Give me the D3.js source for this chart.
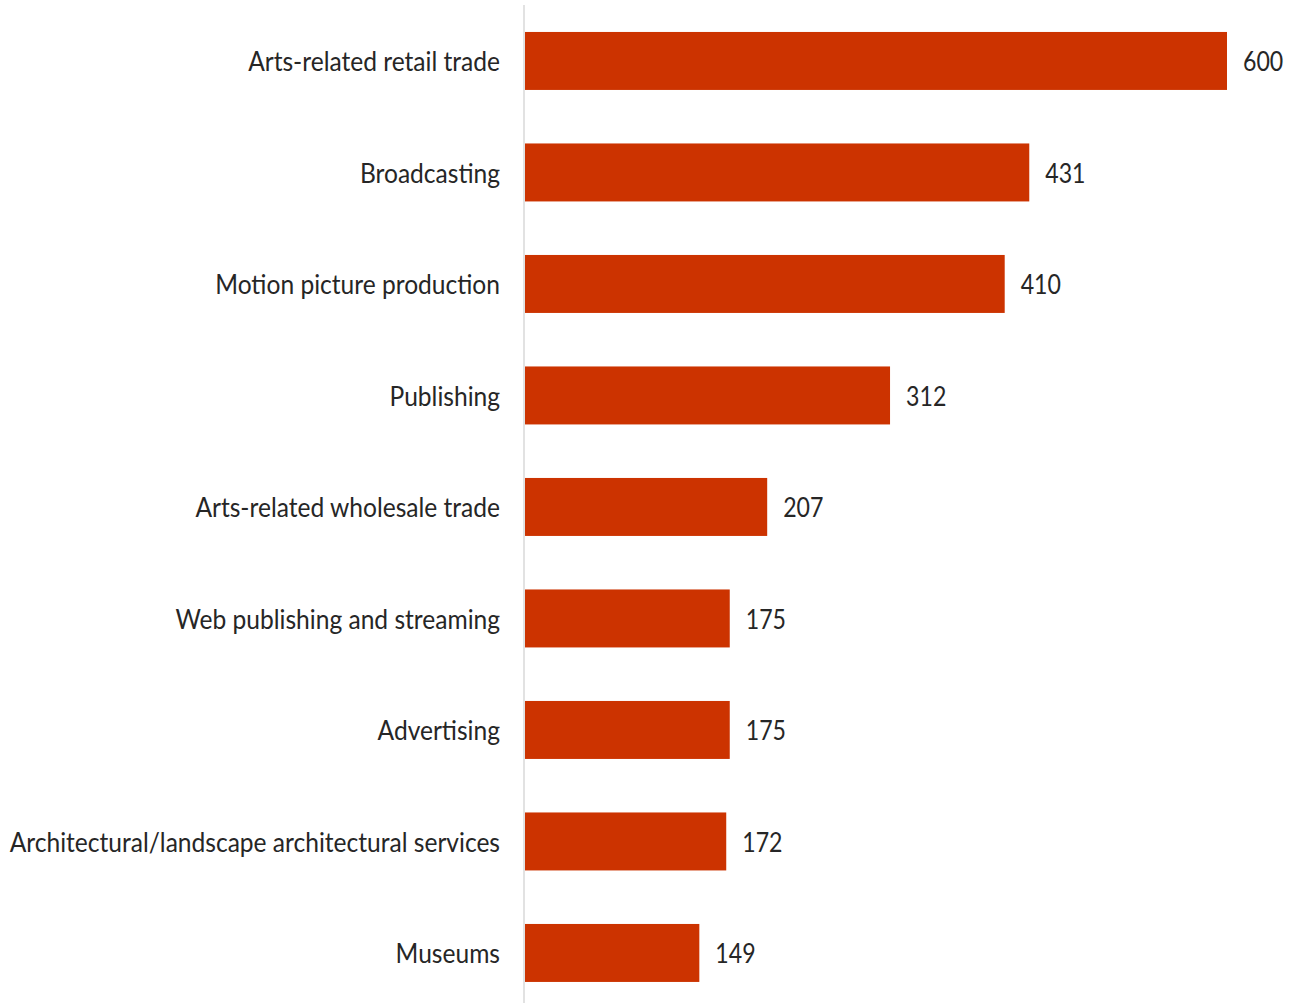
<!DOCTYPE html>
<html>
<head>
<meta charset="utf-8">
<script src="https://cdn.jsdelivr.net/npm/d3@7"></script>
<style>
  html, body { margin: 0; padding: 0; background: #fff; }
  svg text { font-family: Lato, "Open Sans", sans-serif; }
</style>
</head>
<body>
<svg id="chart" width="1294" height="1003"></svg>
<script>
// Arts industries ranked by value
const categories = [
  "Arts-related retail trade",
  "Broadcasting",
  "Motion picture production",
  "Publishing",
  "Arts-related wholesale trade",
  "Web publishing and streaming",
  "Advertising",
  "Architectural/landscape architectural services",
  "Museums"
];
const values = [600, 431, 410, 312, 207, 175, 175, 172, 149];

const svg = d3.select("#chart");
const x0 = 525;
const squeezeCat = 0.945; // horizontal compression of category text
const squeezeVal = 0.89;  // horizontal compression of value text

const x = d3.scaleLinear().domain([0, 600]).range([x0, 1227]);
const y = d3.scaleBand().domain(categories).range([5.2, 1008.7])
  .paddingInner(0.48).paddingOuter(0.24);

// vertical baseline
svg.append("line")
  .attr("x1", x0 - 1).attr("x2", x0 - 1)
  .attr("y1", 5).attr("y2", 1003)
  .attr("stroke", "#d9d9d9").attr("stroke-width", 1.5);

const data = categories.map((c, i) => ({ c, v: values[i] }));

svg.selectAll("rect.bar").data(data).join("rect")
  .attr("class", "bar")
  .attr("x", x(0))
  .attr("y", d => y(d.c))
  .attr("width", d => x(d.v) - x(0))
  .attr("height", y.bandwidth())
  .attr("fill", "#cc3300");

// category labels
svg.selectAll("text.cat").data(data).join("text")
  .attr("class", "cat")
  .attr("transform", d => `translate(500,${y(d.c) + y.bandwidth() / 2}) scale(${squeezeCat},1)`)
  .attr("dy", "0.4em")
  .attr("text-anchor", "end")
  .attr("font-size", 26)
  .attr("fill", "#262626")
  .text(d => d.c);

// value labels
svg.selectAll("text.val").data(data).join("text")
  .attr("class", "val")
  .attr("transform", d => `translate(${x(d.v) + 16},${y(d.c) + y.bandwidth() / 2}) scale(${squeezeVal},1)`)
  .attr("dy", "0.4em")
  .attr("font-size", 26)
  .attr("fill", "#262626")
  .text(d => d.v);
</script>
</body>
</html>
